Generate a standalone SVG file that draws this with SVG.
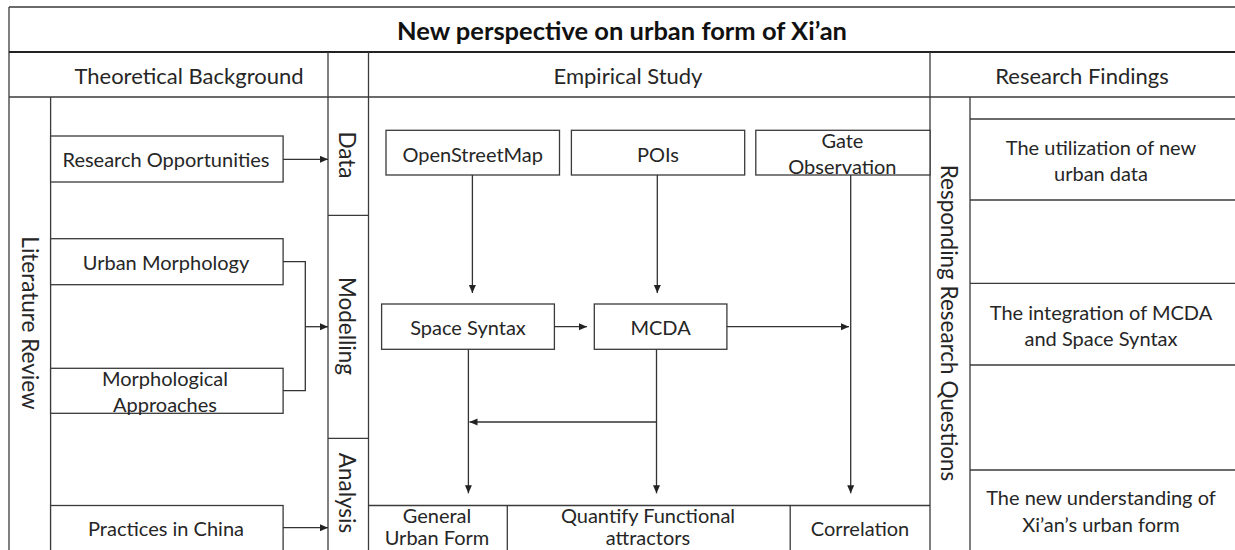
<svg xmlns="http://www.w3.org/2000/svg" width="1235" height="550" viewBox="0 0 1235 550">
<style>
.ln{stroke:#3a3a3a;stroke-width:1.3;fill:none}
.bx{stroke:#3a3a3a;stroke-width:1.3;fill:#fff}
.t{font-family:Lato,"Open Sans",sans-serif;font-size:20px;fill:#262626;text-anchor:middle;dominant-baseline:central}
.h{font-size:22px}
.ti{font-family:Lato,"Open Sans",sans-serif;font-size:25.5px;font-weight:bold;fill:#111;text-anchor:middle;dominant-baseline:central}
.v{font-size:22.5px}
.c{stroke:#333;stroke-width:1.3;fill:none}
</style>
<defs>
<marker id="ah" markerUnits="userSpaceOnUse" markerWidth="9" markerHeight="8" refX="8" refY="3.5" orient="auto">
<path d="M0,0 L8,3.5 L0,7 z" fill="#222"/>
</marker>
</defs>
<rect width="1235" height="550" fill="#fff"/>
<g id="frame">
<line class="ln" x1="9" y1="7" x2="1240" y2="7"/>
<line class="ln" x1="9" y1="7" x2="9" y2="555"/>
<line x1="9" y1="52" x2="1240" y2="52" stroke="#222" stroke-width="2.2"/>
<line class="ln" x1="9" y1="97" x2="1240" y2="97"/>
<line class="ln" x1="328" y1="52" x2="328" y2="555"/>
<line class="ln" x1="368.5" y1="52" x2="368.5" y2="555"/>
<line class="ln" x1="930" y1="52" x2="930" y2="555"/>
<line class="ln" x1="50.6" y1="97" x2="50.6" y2="555"/>
<line class="ln" x1="970" y1="97" x2="970" y2="555"/>
<line class="ln" x1="328" y1="215.3" x2="368.5" y2="215.3"/>
<line class="ln" x1="328" y1="438.3" x2="368.5" y2="438.3"/>
<line class="ln" x1="970" y1="119" x2="1240" y2="119"/>
<line class="ln" x1="970" y1="200" x2="1240" y2="200"/>
<line class="ln" x1="970" y1="283.3" x2="1240" y2="283.3"/>
<line class="ln" x1="970" y1="365" x2="1240" y2="365"/>
<line class="ln" x1="970" y1="470" x2="1240" y2="470"/>
<line class="ln" x1="368.5" y1="505.5" x2="930" y2="505.5"/>
<line class="ln" x1="507.3" y1="505.5" x2="507.3" y2="555"/>
<line class="ln" x1="790.2" y1="505.5" x2="790.2" y2="555"/>
</g>
<g id="title"><text class="ti" x="622" y="30">New perspective on urban form of Xi’an</text></g>
<g id="hdr-theory"><text class="t h" x="189" y="75">Theoretical Background</text></g>
<g id="hdr-empirical"><text class="t h" x="628" y="75">Empirical Study</text></g>
<g id="hdr-findings"><text class="t h" x="1082" y="75">Research Findings</text></g>
<g id="lit-review"><text class="t v" transform="translate(30,323) rotate(90)">Literature Review</text></g>
<g id="data"><text class="t v" transform="translate(347,155) rotate(90)">Data</text></g>
<g id="modelling"><text class="t v" transform="translate(347,326) rotate(90)">Modelling</text></g>
<g id="analysis"><text class="t v" transform="translate(347,493) rotate(90)">Analysis</text></g>
<g id="responding"><text class="t v" transform="translate(949,323) rotate(90)">Responding Research Questions</text></g>
<g id="research-opportunities"><rect class="bx" x="50.6" y="136" width="232.5" height="46"/><text class="t" x="166" y="159">Research  Opportunities</text></g>
<g id="urban-morphology"><rect class="bx" x="50.6" y="238.7" width="232.5" height="46"/><text class="t" x="166" y="261.7">Urban Morphology</text></g>
<g id="morphological-approaches"><rect class="bx" x="50.6" y="368.3" width="232.5" height="45"/><text class="t" x="165" y="377.5">Morphological</text><text class="t" x="165" y="404">Approaches</text></g>
<g id="practices-china"><rect class="bx" x="50.6" y="505.5" width="232.5" height="60"/><text class="t" x="166" y="528">Practices in China</text></g>
<g id="openstreetmap"><rect class="bx" x="386" y="130.3" width="173.5" height="44.7"/><text class="t" x="472.7" y="153.5">OpenStreetMap</text></g>
<g id="pois"><rect class="bx" x="571.4" y="130.3" width="173.3" height="44.7"/><text class="t" x="658" y="153.5">POIs</text></g>
<g id="gate-observation"><rect class="bx" x="755.8" y="130.3" width="174.2" height="44.7"/><text class="t" x="842.4" y="140">Gate</text><text class="t" x="842.4" y="166">Observation</text></g>
<g id="space-syntax"><rect class="bx" x="381.6" y="304" width="172.8" height="45.3"/><text class="t" x="468" y="326.7">Space Syntax</text></g>
<g id="mcda"><rect class="bx" x="594.3" y="304" width="132.6" height="45.3"/><text class="t" x="660.6" y="326.7">MCDA</text></g>
<g id="general-urban-form"><text class="t" x="437" y="515">General</text><text class="t" x="437" y="537">Urban Form</text></g>
<g id="quantify"><text class="t" x="648" y="515">Quantify Functional</text><text class="t" x="648" y="537">attractors</text></g>
<g id="correlation"><text class="t" x="860" y="528">Correlation</text></g>
<g id="finding-1"><text class="t" x="1101" y="146.5">The utilization of new</text><text class="t" x="1101" y="173">urban data</text></g>
<g id="finding-2"><text class="t" x="1101" y="311.7">The integration of MCDA</text><text class="t" x="1101" y="338.3">and Space Syntax</text></g>
<g id="finding-3"><text class="t" x="1101" y="497.3">The new understanding of</text><text class="t" x="1101" y="524">Xi’an’s urban form</text></g>
<g id="connectors">
<line class="c" x1="283" y1="159.3" x2="328" y2="159.3" marker-end="url(#ah)"/>
<polyline class="c" points="283,261.7 305.3,261.7 305.3,390.7 283,390.7"/>
<line class="c" x1="305.3" y1="326.7" x2="328" y2="326.7" marker-end="url(#ah)"/>
<line class="c" x1="283" y1="527.7" x2="328" y2="527.7" marker-end="url(#ah)"/>
<line class="c" x1="472.4" y1="175" x2="472.4" y2="293" marker-end="url(#ah)"/>
<line class="c" x1="657.3" y1="175" x2="657.3" y2="293" marker-end="url(#ah)"/>
<line class="c" x1="850.7" y1="175" x2="850.7" y2="493.3" marker-end="url(#ah)"/>
<line class="c" x1="554.4" y1="326.7" x2="587" y2="326.7" marker-end="url(#ah)"/>
<line class="c" x1="726.9" y1="326.7" x2="849" y2="326.7" marker-end="url(#ah)"/>
<line class="c" x1="468.4" y1="349.3" x2="468.4" y2="493.3" marker-end="url(#ah)"/>
<line class="c" x1="656.5" y1="349.3" x2="656.5" y2="493.3" marker-end="url(#ah)"/>
<line class="c" x1="656.5" y1="422" x2="469.5" y2="422" marker-end="url(#ah)"/>
</g>
</svg>
